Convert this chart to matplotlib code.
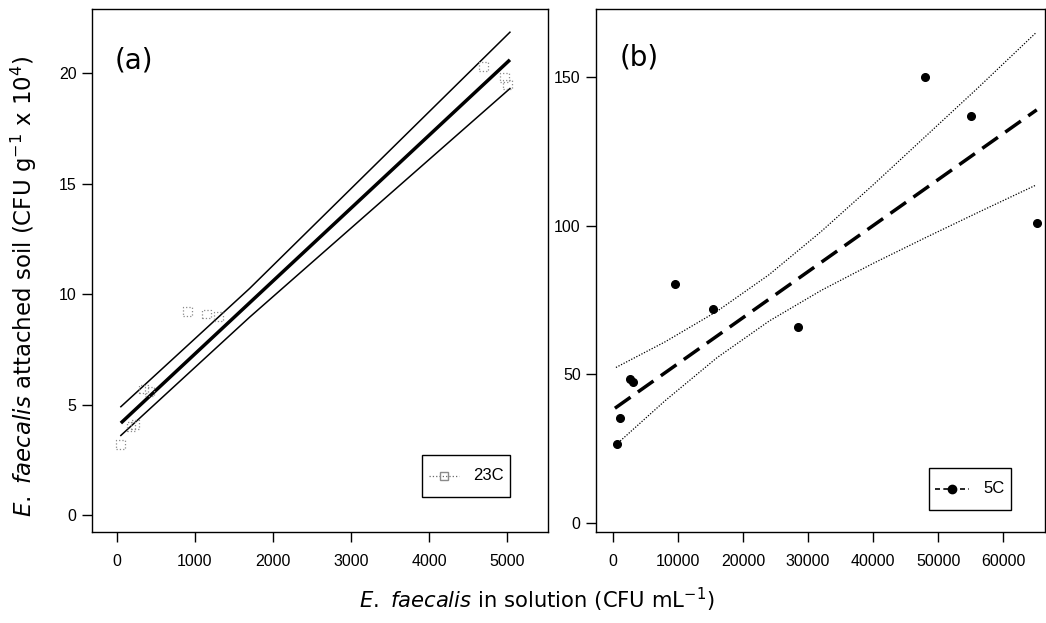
import numpy as np
import matplotlib.pyplot as plt
from matplotlib.lines import Line2D

# panel (a) - 23C
a_x = [50, 180, 230, 340, 420, 900, 1150, 1300, 4700, 4970, 5010]
a_y = [3.2, 4.0, 4.1, 5.7, 5.6, 9.2, 9.1, 9.0, 20.3, 19.8, 19.5]
a_fit_x = [50, 1700, 5038]
a_fit_y = [4.16, 9.6, 20.6]
a_upper = [4.9, 10.25, 21.85]
a_lower = [3.6, 8.95, 19.3]

# panel (b) - 5C
b_x = [614, 1075, 2700, 3100, 9520, 15360, 28420, 47930, 54990, 65130]
b_y = [26.5, 35.2, 48.5, 47.5, 80.5, 72.1, 65.8, 150.0, 136.9, 100.7]
b_fit_x = [307, 65130]
b_fit_y = [38.6, 138.9]
b_band_x = [460, 8000, 16000, 24000, 32000, 40000, 48000, 56000, 65000]
b_upper = [52.3, 60.9, 71.2, 83.5, 98.0, 113.7, 129.9, 146.1, 164.8]
b_lower = [26.3, 41.1, 55.6, 67.9, 78.2, 87.3, 95.9, 104.3, 113.6]

W, H = 1046, 623
LEG_FS = 12
LEG_HH = 2.3
fig = plt.figure(figsize=(W / 100, H / 100), dpi=100)

def px_axes(x0, y0, x1, y1):
    return fig.add_axes([x0 / W, 1 - y1 / H, (x1 - x0) / W, (y1 - y0) / H])

def style(ax):
    for s in ax.spines.values():
        s.set_linewidth(1.0)
    ax.tick_params(direction='out', length=7, width=1.0, labelsize=11.5)
    ax.tick_params(axis='x', pad=9)
    ax.tick_params(axis='y', pad=4)
    for lab in ax.get_xticklabels() + ax.get_yticklabels():
        lab.set_fontfamily('Liberation Sans')

def center_rows(leg):
    # put text and handle on the same vertical centre
    for col in leg._legend_handle_box.get_children():
        for row in col.get_children():
            row.align = 'center'
    shift = 0.35 * LEG_FS * (LEG_HH - 0.7) / 2
    for h in leg.legend_handles:
        h.set_ydata(np.asarray(h.get_ydata()) - shift)
    leg.get_frame().set_linewidth(1.0)

leg_kw = dict(loc='lower right', borderaxespad=0, fancybox=False, edgecolor='black',
              framealpha=1, prop={'family': 'Liberation Sans', 'size': LEG_FS},
              borderpad=0.4, handleheight=LEG_HH, handletextpad=0.85)

# ---- (a)
ax1 = px_axes(92, 9, 548, 532)
ax1.plot(a_fit_x, a_fit_y, color='black', lw=2.5, solid_capstyle='butt')
ax1.plot(a_fit_x, a_upper, color='black', lw=1.1)
ax1.plot(a_fit_x, a_lower, color='black', lw=1.1)
ax1.scatter(a_x, a_y, marker='s', s=40, facecolors='none', edgecolors='#8a8a8a',
            linewidths=0.9, linestyles=':', zorder=3)
ax1.set_xlim(-320, 5526)
ax1.set_ylim(-0.77, 22.9)
ax1.set_xticks([0, 1000, 2000, 3000, 4000, 5000])
ax1.set_yticks([0, 5, 10, 15, 20])
style(ax1)
ax1.text(0.05, 0.902, '(a)', transform=ax1.transAxes, fontsize=20,
         family='DejaVu Sans', va='center')
h1 = Line2D([], [], color='#6a6a6a', lw=0.9, linestyle=':', marker='s', ms=6,
            mfc='none', mec='#8a8a8a')
leg1 = ax1.legend([h1], ['23C'], bbox_to_anchor=(0.917, 0.067), handlelength=1.8,
                  **leg_kw)
center_rows(leg1)

# ---- (b)
ax2 = px_axes(596, 9, 1045, 532)
ax2.plot(b_fit_x, b_fit_y, color='black', lw=2.5, dashes=(5.5, 2.6))
ax2.plot(b_band_x, b_upper, color='black', lw=0.9, linestyle=(0, (1, 1.3)))
ax2.plot(b_band_x, b_lower, color='black', lw=0.9, linestyle=(0, (1, 1.3)))
ax2.plot(b_x, b_y, 'o', color='black', ms=5.5, zorder=3)
ax2.set_xlim(-2600, 66400)
ax2.set_ylim(-3, 172.8)
ax2.set_xticks([0, 10000, 20000, 30000, 40000, 50000, 60000])
ax2.set_yticks([0, 50, 100, 150])
style(ax2)
ax2.text(0.053, 0.908, '(b)', transform=ax2.transAxes, fontsize=20,
         family='DejaVu Sans', va='center')
h2 = Line2D([], [], color='black', lw=1.2, dashes=(3, 2), marker='o', ms=6)
leg2 = ax2.legend([h2], ['5C'], bbox_to_anchor=(0.924, 0.042), handlelength=2.0,
                  **leg_kw)
center_rows(leg2)

fig.text(24 / W, 1 - 286 / H,
         r'$\it{E.\ faecalis}$ attached soil (CFU g$^{-1}$ x 10$^{4}$)',
         rotation=90, ha='center', va='center', fontsize=16.5, family='DejaVu Sans')
fig.text(537 / W, 1 - 600 / H,
         r'$\it{E.\ faecalis}$ in solution (CFU mL$^{-1}$)',
         ha='center', va='center', fontsize=15.2, family='DejaVu Sans')

fig.savefig('out.png', dpi=100)
